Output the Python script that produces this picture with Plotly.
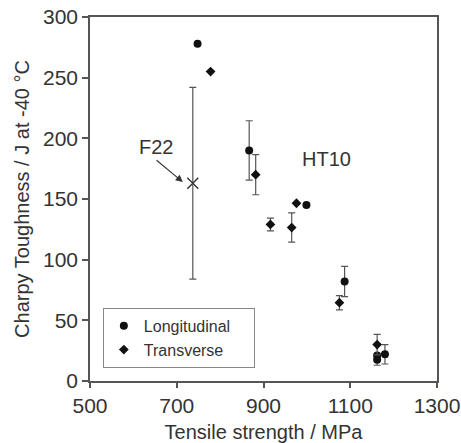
import plotly.graph_objects as go

# Longitudinal specimens
long_x = [748, 867, 999, 1087, 1162, 1162, 1180]
long_y = [278, 190, 145, 82, 21, 17.5, 22]
long_err = [None, 24.5, None, 12.5, None, 4.5, 8]

# Transverse specimens
trans_x = [778, 882, 916, 965, 976, 1075, 1162]
trans_y = [255, 170, 129, 126.5, 146.5, 64.5, 30]
trans_err = [None, 16.5, 5.2, 12, None, 5.8, 8.5]

# F22 reference
f22_x = [737]
f22_y = [163]
f22_err = [79]

x_ticks = [500, 700, 900, 1100, 1300]
y_ticks = [0, 50, 100, 150, 200, 250, 300]

FONT = "Liberation Sans, Arial, sans-serif"
TXT = "#333333"
ERRC = "#555555"
PAD = "\u00a0" * 4

fig = go.Figure()

fig.add_trace(go.Scatter(
    x=f22_x, y=f22_y, mode="markers", showlegend=False,
    marker=dict(symbol="x-thin", size=11, line=dict(width=1.4, color="#333333")),
    error_y=dict(type="data", array=f22_err, color=ERRC, thickness=1.2, width=3.5),
))
fig.add_trace(go.Scatter(
    x=long_x, y=long_y, mode="markers", name="Longitudinal" + PAD,
    marker=dict(symbol="circle", size=8, color="#111111"),
    error_y=dict(type="data", array=long_err, color=ERRC, thickness=1.2, width=3.5),
))
fig.add_trace(go.Scatter(
    x=trans_x, y=trans_y, mode="markers", name="Transverse",
    marker=dict(symbol="diamond", size=7.5, color="#111111"),
    error_y=dict(type="data", array=trans_err, color=ERRC, thickness=1.2, width=3.5),
))

fig.add_annotation(x=652, y=193, xref="x", yref="y", text="F22", showarrow=False,
                   font=dict(size=20, color=TXT, family=FONT))
fig.add_annotation(x=714, y=164, xref="x", yref="y", ax=650, ay=183, axref="x", ayref="y",
                   text="", showarrow=True, arrowhead=2, arrowsize=1.3, arrowwidth=1.1,
                   arrowcolor="#333333")
fig.add_annotation(x=1046, y=183, xref="x", yref="y", text="HT10", showarrow=False,
                   font=dict(size=20, color=TXT, family=FONT))

fig.update_layout(
    width=461, height=443,
    margin=dict(l=90, r=24, t=17, b=62, autoexpand=False),
    paper_bgcolor="white", plot_bgcolor="white",
    font=dict(family=FONT, color=TXT),
    legend=dict(x=0.037, y=0.036, xanchor="left", yanchor="bottom",
                bordercolor="#888888", borderwidth=1, bgcolor="white",
                font=dict(size=16, color=TXT, family=FONT),
                itemwidth=30, tracegroupgap=0),
)
fig.update_xaxes(
    range=[500, 1300], tickvals=x_ticks, ticktext=[str(v) for v in x_ticks],
    showgrid=False, zeroline=False, showline=True, linecolor="#555555", linewidth=1.5,
    mirror=True, ticks="outside", ticklen=5, tickcolor="#555555", tickwidth=1.5,
    tickfont=dict(size=21, color=TXT, family=FONT), automargin=False,
    title=dict(text="Tensile strength / MPa", font=dict(size=20, color=TXT, family=FONT), standoff=10),
)
fig.update_yaxes(
    range=[0, 300], tickvals=y_ticks, ticktext=[str(v) for v in y_ticks],
    showgrid=False, zeroline=False, showline=True, linecolor="#555555", linewidth=1.5,
    mirror=True, ticks="outside", ticklen=6, tickcolor="#555555", tickwidth=1.5,
    tickfont=dict(size=21, color=TXT, family=FONT), automargin=False,
    title=dict(text="Charpy Toughness / J at -40 °C", font=dict(size=20, color=TXT, family=FONT), standoff=8),
)

fig.write_html("out.html")
